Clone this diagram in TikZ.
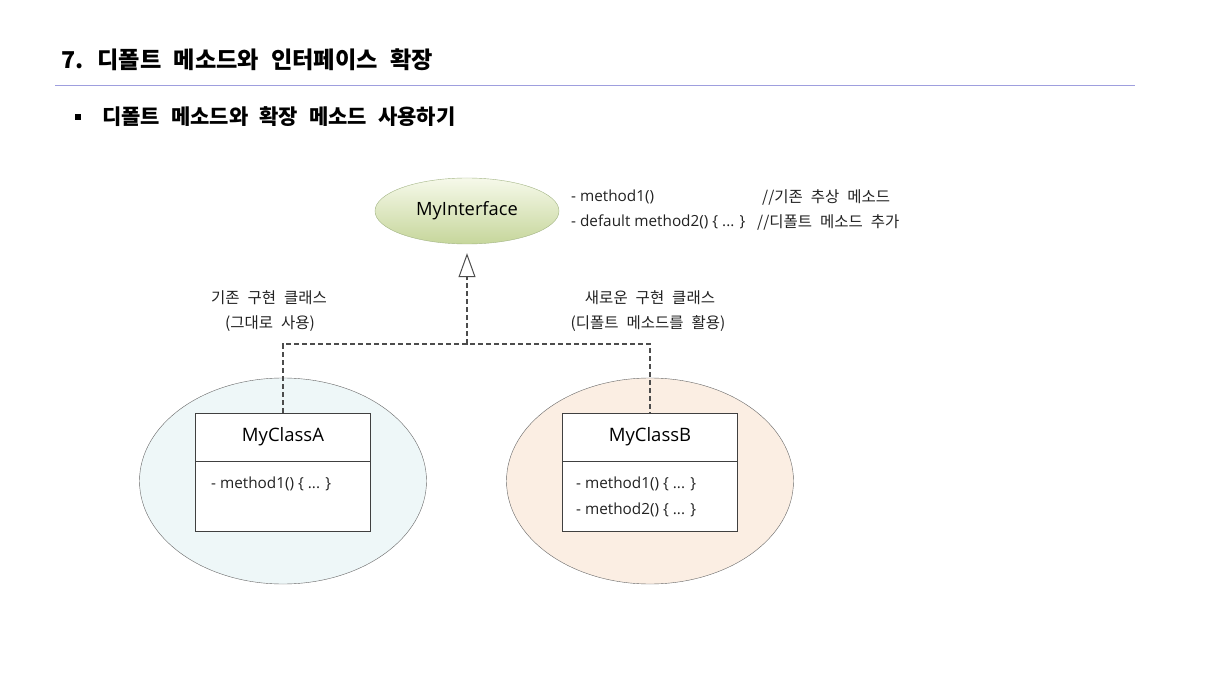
\documentclass[tikz,border=0pt]{standalone}
\usepackage{fontspec}
\setmainfont{Open Sans}
\newfontfamily\kr[WordSpace=3.3]{Noto Sans CJK KR}
\newfontfamily\krhead[WordSpace=1.5]{Noto Sans CJK KR}
\newfontfamily\krsub[WordSpace=2.3]{Noto Sans CJK KR}
\usetikzlibrary{positioning,arrows.meta,shapes.geometric}

\definecolor{rulecol}{HTML}{9E9EDE}
\definecolor{ifacetop}{HTML}{F6F9EA}
\definecolor{ifacebot}{HTML}{C6D69B}
\definecolor{ifacedraw}{HTML}{A3B585}
\definecolor{leftfill}{HTML}{EEF7F8}
\definecolor{rightfill}{HTML}{FBEEE3}
\definecolor{txtcol}{HTML}{222222}

\tikzset{
  classname/.style={draw=black!75,fill=white,minimum width=175pt,minimum height=48pt,inner sep=0pt,font=\fontsize{18.5}{22}\selectfont},
  classbody/.style={draw=black!75,fill=white,minimum width=175pt,minimum height=70pt,inner sep=0pt},
  implline/.style={dash pattern=on 5pt off 3pt,line width=1.1pt,black!70},
  note/.style={font=\fontsize{15.3}{18}\selectfont,text=txtcol,inner sep=0pt},
  krnote/.style={font=\kr\fontsize{15.5}{18}\selectfont,text=txtcol,inner sep=0pt}
}

\begin{document}
\begin{tikzpicture}[x=1pt,y=-1pt]
  \useasboundingbox[fill=white] (0,0) rectangle (1229,687);

  % heading
  \node[anchor=west,inner sep=0pt,font=\krhead\fontsize{23.2}{28}\bfseries] (title) at (61,60) {7. 디폴트 메소드와 인터페이스 확장};
  \draw[rulecol,line width=1pt] (55,86) -- (1135,86);
  \node[anchor=west,inner sep=0pt,font=\krsub\fontsize{21}{25}\bfseries] (sub) at (102,117) {디폴트 메소드와 확장 메소드 사용하기};
  \fill (75,114) rectangle (81,120);

  % interface
  \node[ellipse,draw=ifacedraw,top color=ifacetop,bottom color=ifacebot,minimum width=184pt,minimum height=66pt,inner sep=0pt,font=\fontsize{18.3}{22}\selectfont] (iface) at (467,211) {MyInterface};
  \node[note,anchor=west] (m1) at (571,197) {- method1()};
  \node[krnote,anchor=west] (c1) at (762,197) {//기존 추상 메소드};
  \node[note,anchor=west] (m2) at (571,222) {- default method2() \{ ... \}};
  \node[krnote,anchor=west] (c2) at (757,222) {//디폴트 메소드 추가};

  % implementing classes
  \node[ellipse,draw=black!60,fill=leftfill,minimum width=287pt,minimum height=206pt] (ovalA) at (283,481) {};
  \node[ellipse,draw=black!60,fill=rightfill,minimum width=287pt,minimum height=206pt] (ovalB) at (650,481) {};

  \node[classname] (nameA) at (283,437) {MyClassA};
  \node[classbody,below=0pt of nameA] (bodyA) {};
  \node[note,anchor=west] (mA1) at (211,484) {- method1() \{ ... \}};

  \node[classname] (nameB) at (650,437) {MyClassB};
  \node[classbody,below=0pt of nameB] (bodyB) {};
  \node[note,anchor=west] (mB1) at (576,484) {- method1() \{ ... \}};
  \node[note,anchor=west] (mB2) at (576,510) {- method2() \{ ... \}};

  \node[krnote] (lblA1) at (269,298) {기존 구현 클래스};
  \node[krnote] (lblA2) at (270,324) {(그대로 사용)};
  \node[krnote] (lblB1) at (650,298) {새로운 구현 클래스};
  \node[krnote] (lblB2) at (648,324) {(디폴트 메소드를 활용)};

  % realization
  \coordinate (jn) at (467,344);
  \draw[implline] (nameA.north) |- (jn) -| (nameB.north);
  \draw[implline,-{Triangle[open,width=17pt,length=24pt,line width=1pt]},shorten >=9pt] (jn) -- (iface.south);
\end{tikzpicture}
\end{document}
